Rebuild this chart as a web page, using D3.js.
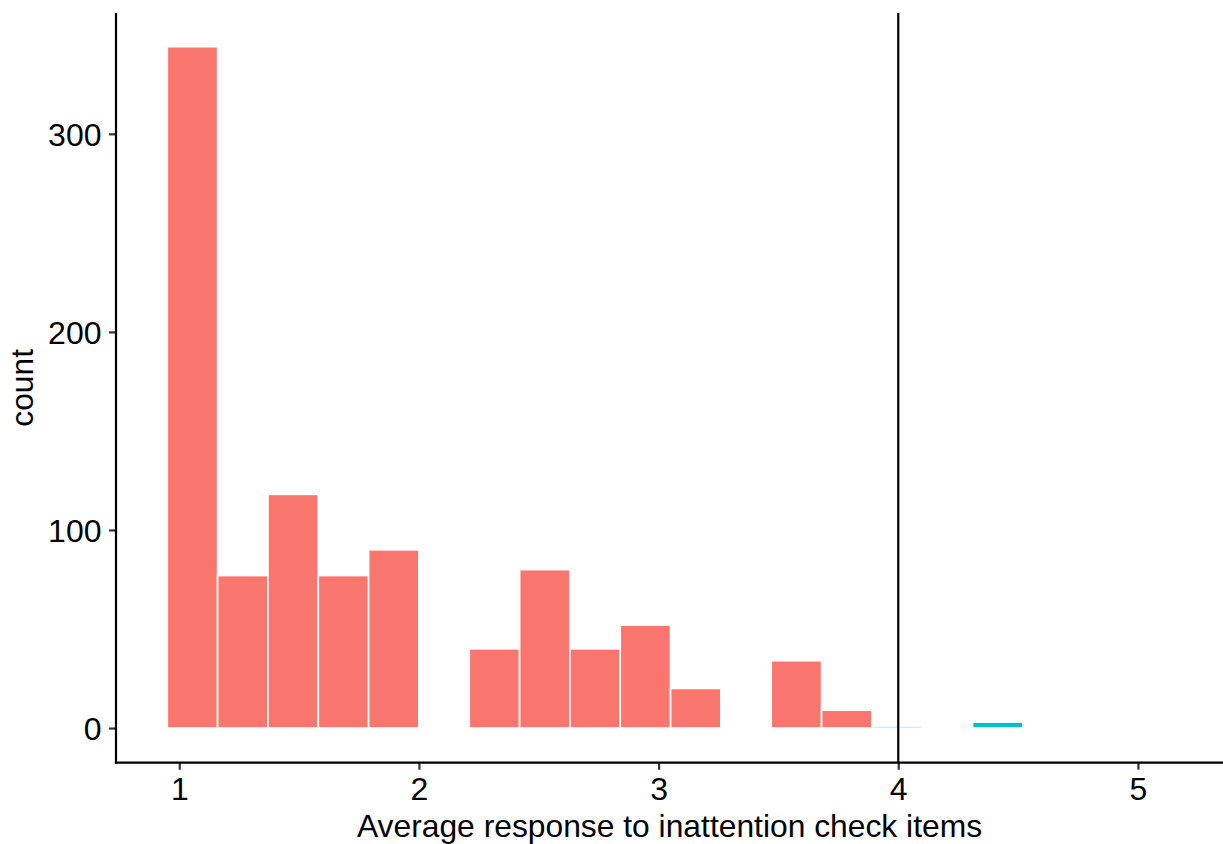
<!DOCTYPE html>
<html lang="en">
<head>
<meta charset="UTF-8">
<title>Inattention check histogram</title>
<script src="https://d3js.org/d3.v7.min.js"></script>
<style>
  body { margin: 0; background: #fff; }
  text { font-family: "Liberation Sans", Arial, Helvetica, sans-serif; }
</style>
</head>
<body>
<div id="my_dataviz"></div>
<script>
// histogram bins (left edge of each non-empty bin, width 0.21)
var binWidth = 0.21
var binStarts = [0.95, 1.16, 1.37, 1.58, 1.79, 2.21, 2.42, 2.63, 2.84, 3.05, 3.47, 3.68, 3.89, 4.31]
var counts    = [344, 77, 118, 77, 90, 40, 80, 40, 52, 20, 34, 9, 1, 3]
var groups    = ["keep", "keep", "keep", "keep", "keep", "keep", "keep", "keep", "keep", "keep", "keep", "keep", "drop", "drop"]

var xTicks = [1, 2, 3, 4, 5]
var yTicks = [0, 100, 200, 300]
var cutoff = 4

// set the dimensions of the graph
var width = 1223
var height = 844
var panel = {left: 116, right: 1223, top: 13, bottom: 762.7}

var svg = d3.select("#my_dataviz")
  .append("svg")
    .attr("width", width)
    .attr("height", height)

var x = d3.scaleLinear()
  .domain([0.736, 5.355])
  .range([panel.left, panel.right])

var y = d3.scaleLinear()
  .domain([-17.5, 361])
  .range([panel.bottom, panel.top])

var color = d3.scaleOrdinal()
  .domain(["keep", "drop"])
  .range(["#F8766D", "#00BFC4"])

var bins = binStarts.map(function(s, i) {
  return {x0: s, x1: s + binWidth, n: counts[i], g: groups[i]}
})

// bars
svg.append("g")
  .selectAll("rect")
  .data(bins)
  .enter()
  .append("rect")
    .attr("x", function(d) { return x(d.x0) })
    .attr("width", function(d) { return x(d.x1) - x(d.x0) })
    .attr("y", function(d) { return y(d.n) })
    .attr("height", function(d) { return y(0) - y(d.n) })
    .style("fill", function(d) { return color(d.g) })
    .attr("stroke", "white")
    .style("stroke-width", 1.7)

// cut-off line
svg.append("line")
  .attr("x1", x(cutoff)).attr("x2", x(cutoff))
  .attr("y1", panel.top).attr("y2", panel.bottom)
  .attr("stroke", "black")
  .style("stroke-width", 2.2)

// y axis
var yAxis = svg.append("g")
  .attr("transform", "translate(" + panel.left + ",0)")
  .call(d3.axisLeft(y).tickValues(yTicks).tickSize(7).tickPadding(7.5))
yAxis.select(".domain").remove()
yAxis.selectAll(".tick line").attr("stroke", "#333333").style("stroke-width", 2.2)
yAxis.selectAll(".tick text")
  .attr("font-size", 32)
  .attr("font-family", null)
  .attr("fill", "black")
  .attr("dy", 11.5)

// x axis
var xAxis = svg.append("g")
  .attr("transform", "translate(0," + panel.bottom + ")")
  .call(d3.axisBottom(x).tickValues(xTicks).tickSize(7).tickFormat(d3.format("d")))
xAxis.select(".domain").remove()
xAxis.selectAll(".tick line").attr("stroke", "#333333").style("stroke-width", 2.2)
xAxis.selectAll(".tick text")
  .attr("font-size", 32)
  .attr("font-family", null)
  .attr("fill", "black")
  .attr("y", 800 - panel.bottom)
  .attr("dy", 0)

// axis lines
svg.append("line")
  .attr("x1", panel.left).attr("x2", panel.left)
  .attr("y1", panel.top).attr("y2", panel.bottom + 1.1)
  .attr("stroke", "black").style("stroke-width", 2.2)
svg.append("line")
  .attr("x1", panel.left - 1.1).attr("x2", panel.right)
  .attr("y1", panel.bottom).attr("y2", panel.bottom)
  .attr("stroke", "black").style("stroke-width", 2.2)

// axis titles
svg.append("text")
  .attr("x", (panel.left + panel.right) / 2)
  .attr("y", 837.3)
  .attr("text-anchor", "middle")
  .attr("font-size", 31.8)
  .text("Average response to inattention check items")

svg.append("text")
  .attr("transform", "translate(33.3," + (panel.top + panel.bottom) / 2 + ") rotate(-90)")
  .attr("text-anchor", "middle")
  .attr("font-size", 31.8)
  .text("count")
</script>
</body>
</html>
